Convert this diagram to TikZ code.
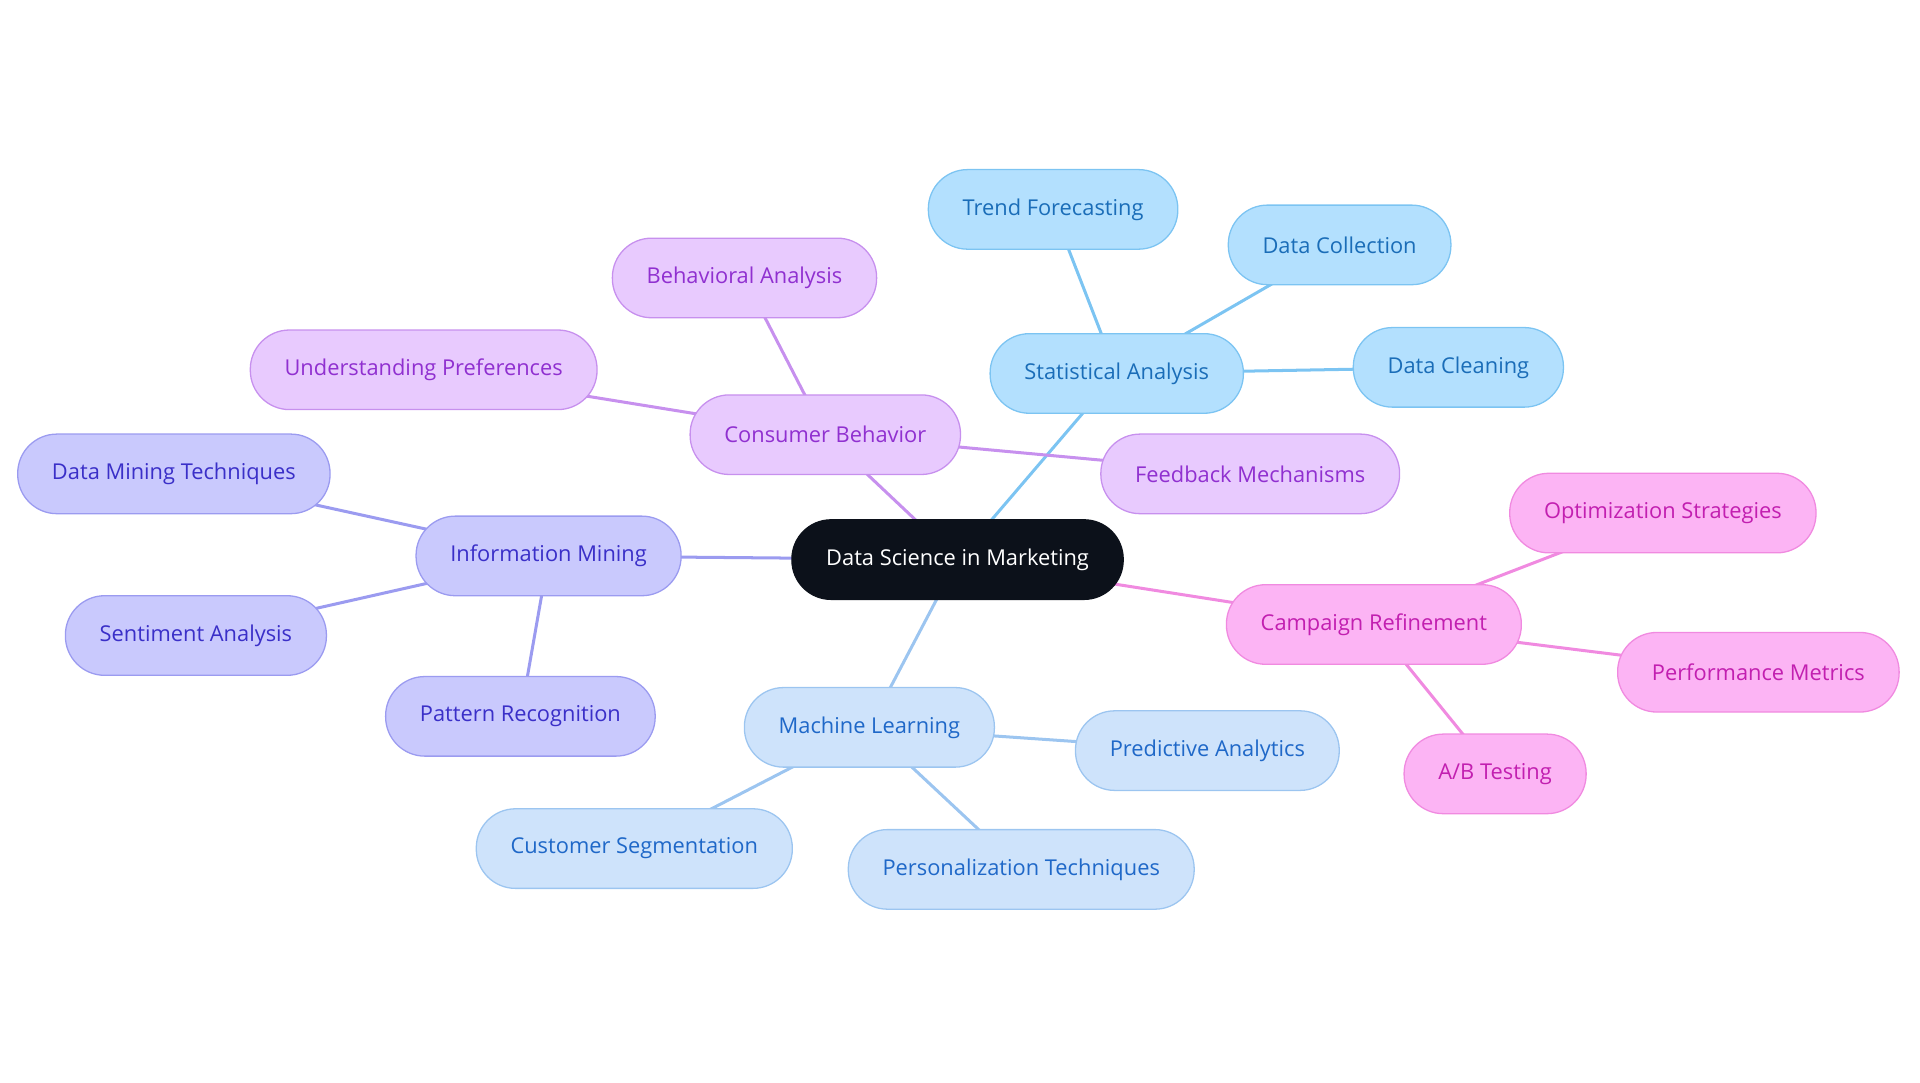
\documentclass[tikz,border=0pt]{standalone}
\usepackage{fontspec}
\setmainfont{Open Sans}
\usetikzlibrary{backgrounds}
\definecolor{centerfill}{HTML}{0C111A}
\definecolor{statfill}{HTML}{B3E0FE}
\definecolor{statline}{HTML}{7CC4F2}
\definecolor{stattext}{HTML}{1A6DB8}
\definecolor{consfill}{HTML}{E8CAFE}
\definecolor{consline}{HTML}{C790EE}
\definecolor{constext}{HTML}{9030D0}
\definecolor{minefill}{HTML}{C9C9FD}
\definecolor{mineline}{HTML}{9B9BF0}
\definecolor{minetext}{HTML}{3A2FC8}
\definecolor{campfill}{HTML}{FCB4F4}
\definecolor{campline}{HTML}{F08AE0}
\definecolor{camptext}{HTML}{C21FB0}
\definecolor{mlfill}{HTML}{CEE3FB}
\definecolor{mlline}{HTML}{9CC5F0}
\definecolor{mltext}{HTML}{1F68C8}
\begin{document}
\begin{tikzpicture}[
                x=0.02cm, y=-0.02cm,
                pill/.style={rounded corners=0.64cm, minimum height=1.3cm, inner xsep=0.56cm, outer sep=0pt, line width=0.6pt, font=\fontsize{10.15}{12}\selectfont},
                rootnode/.style={pill, fill=centerfill, draw=centerfill, text=white},
                statnode/.style={pill, fill=statfill, draw=statline, text=stattext},
                consnode/.style={pill, fill=consfill, draw=consline, text=constext},
                minenode/.style={pill, fill=minefill, draw=mineline, text=minetext},
                campnode/.style={pill, fill=campfill, draw=campline, text=camptext},
                mlnode/.style={pill, fill=mlfill, draw=mlline, text=mltext},
                link/.style={line width=1.4pt}
            ]
            \useasboundingbox (0,0) rectangle (1568,884.4);

            % Central node
            \node[rootnode] (root) at (782,457) {Data Science in Marketing};

            % Statistical Analysis branch
            \node[statnode] (stat) at (912,305) {Statistical Analysis};
            \node[statnode] (trend) at (860,171) {Trend Forecasting};
            \node[statnode] (collect) at (1094,200) {Data Collection};
            \node[statnode] (clean) at (1191,300) {Data Cleaning};

            % Consumer Behavior branch
            \node[consnode] (cons) at (674,355) {Consumer Behavior};
            \node[consnode] (behav) at (608,227) {Behavioral Analysis};
            \node[consnode] (prefs) at (346,302) {Understanding Preferences};
            \node[consnode] (feed) at (1021,387) {Feedback Mechanisms};

            % Information Mining branch
            \node[minenode] (mine) at (448,454) {Information Mining};
            \node[minenode] (dmt) at (142,387) {Data Mining Techniques};
            \node[minenode] (senti) at (160,519) {Sentiment Analysis};
            \node[minenode] (pattern) at (425,585) {Pattern Recognition};

            % Campaign Refinement branch
            \node[campnode] (camp) at (1122,510) {Campaign Refinement};
            \node[campnode] (optim) at (1358,419) {Optimization Strategies};
            \node[campnode] (perf) at (1436,549) {Performance Metrics};
            \node[campnode] (abtest) at (1221,632) {A/B Testing};

            % Machine Learning branch
            \node[mlnode] (ml) at (710,594) {Machine Learning};
            \node[mlnode] (predict) at (986,613) {Predictive Analytics};
            \node[mlnode] (segment) at (518,693) {Customer Segmentation};
            \node[mlnode] (person) at (834,710) {Personalization Techniques};

            % Edges (behind the nodes)
            \begin{scope}[on background layer]
            \draw[link, statline] (root.center) -- (stat.center);
            \draw[link, statline] (stat.center) -- (trend.center);
            \draw[link, statline] (stat.center) -- (collect.center);
            \draw[link, statline] (stat.center) -- (clean.center);
            \draw[link, consline] (root.center) -- (cons.center);
            \draw[link, consline] (cons.center) -- (behav.center);
            \draw[link, consline] (cons.center) -- (prefs.center);
            \draw[link, consline] (cons.center) -- (feed.center);
            \draw[link, mineline] (root.center) -- (mine.center);
            \draw[link, mineline] (mine.center) -- (dmt.center);
            \draw[link, mineline] (mine.center) -- (senti.center);
            \draw[link, mineline] (mine.center) -- (pattern.center);
            \draw[link, campline] (root.center) -- (camp.center);
            \draw[link, campline] (camp.center) -- (optim.center);
            \draw[link, campline] (camp.center) -- (perf.center);
            \draw[link, campline] (camp.center) -- (abtest.center);
            \draw[link, mlline] (root.center) -- (ml.center);
            \draw[link, mlline] (ml.center) -- (predict.center);
            \draw[link, mlline] (ml.center) -- (segment.center);
            \draw[link, mlline] (ml.center) -- (person.center);
            \end{scope}

        \end{tikzpicture}
\end{document}
